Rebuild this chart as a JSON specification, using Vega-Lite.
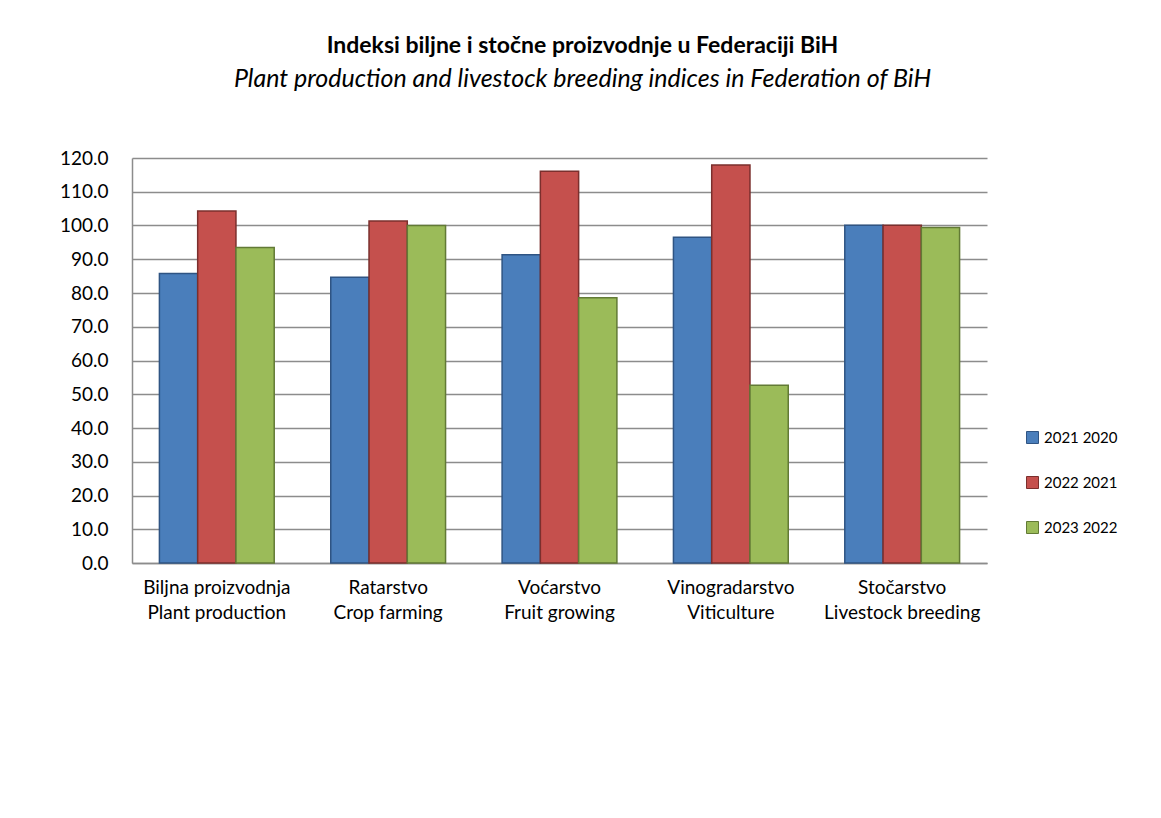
{
  "$schema": "https://vega.github.io/schema/vega-lite/v6.json",
  "width": 855,
  "height": 405,
  "autosize": "none",
  "padding": {"left": 132, "top": 158, "right": 174, "bottom": 255},
  "background": "white",
  "title": {
    "text": "Indeksi biljne i stočne proizvodnje u Federaciji BiH",
    "subtitle": "Plant production and livestock breeding indices in Federation of BiH",
    "font": "Lato",
    "fontSize": 23,
    "fontWeight": "bold",
    "color": "black",
    "subtitleFont": "Lato",
    "subtitleFontSize": 25,
    "subtitleFontStyle": "italic",
    "subtitleColor": "black",
    "subtitlePadding": 9,
    "anchor": "middle",
    "offset": 57,
    "dx": 23
  },
  "data": {
    "values": [
      {"category": "Biljna proizvodnja|Plant production", "series": "2021 2020", "value": 85.8},
      {"category": "Biljna proizvodnja|Plant production", "series": "2022 2021", "value": 104.3},
      {"category": "Biljna proizvodnja|Plant production", "series": "2023 2022", "value": 93.5},
      {"category": "Ratarstvo|Crop farming", "series": "2021 2020", "value": 84.7},
      {"category": "Ratarstvo|Crop farming", "series": "2022 2021", "value": 101.3},
      {"category": "Ratarstvo|Crop farming", "series": "2023 2022", "value": 100.0},
      {"category": "Voćarstvo|Fruit growing", "series": "2021 2020", "value": 91.3},
      {"category": "Voćarstvo|Fruit growing", "series": "2022 2021", "value": 116.1},
      {"category": "Voćarstvo|Fruit growing", "series": "2023 2022", "value": 78.6},
      {"category": "Vinogradarstvo|Viticulture", "series": "2021 2020", "value": 96.5},
      {"category": "Vinogradarstvo|Viticulture", "series": "2022 2021", "value": 117.9},
      {"category": "Vinogradarstvo|Viticulture", "series": "2023 2022", "value": 52.7},
      {"category": "Stočarstvo|Livestock breeding", "series": "2021 2020", "value": 100.1},
      {"category": "Stočarstvo|Livestock breeding", "series": "2022 2021", "value": 100.1},
      {"category": "Stočarstvo|Livestock breeding", "series": "2023 2022", "value": 99.4}
    ]
  },
  "mark": {"type": "bar", "strokeWidth": 1.5},
  "encoding": {
    "x": {
      "field": "category",
      "type": "nominal",
      "sort": null,
      "scale": {"paddingInner": 0.33, "paddingOuter": 0.16},
      "axis": {
        "title": null,
        "labelAngle": 0,
        "labelExpr": "split(datum.label, '|')",
        "labelFont": "Lato",
        "labelFontSize": 19,
        "labelColor": "black",
        "labelLineHeight": 25,
        "labelPadding": 15,
        "labelLimit": 0,
        "ticks": false,
        "domainColor": "#8c8c8c",
        "domainWidth": 1.5
      }
    },
    "xOffset": {"field": "series", "type": "nominal", "sort": null, "scale": {"paddingInner": 0}},
    "y": {
      "field": "value",
      "type": "quantitative",
      "scale": {"domain": [0, 120], "nice": false},
      "axis": {
        "title": null,
        "values": [0, 10, 20, 30, 40, 50, 60, 70, 80, 90, 100, 110, 120],
        "format": ".1f",
        "labelFont": "Lato",
        "labelFontSize": 19,
        "labelColor": "black",
        "labelPadding": 24,
        "ticks": false,
        "grid": true,
        "gridColor": "#8c8c8c",
        "gridWidth": 1.5,
        "domainColor": "#8c8c8c",
        "domainWidth": 1.5
      }
    },
    "color": {
      "field": "series",
      "type": "nominal",
      "sort": null,
      "scale": {"domain": ["2021 2020", "2022 2021", "2023 2022"], "range": ["#4a7ebb", "#c5504d", "#9bbb59"]},
      "legend": {
        "title": null,
        "orient": "none",
        "legendX": 893,
        "legendY": 272,
        "labelFont": "Lato",
        "labelFontSize": 15,
        "labelColor": "black",
        "symbolType": "square",
        "symbolSize": 144,
        "symbolStrokeWidth": 1,
        "rowPadding": 28,
        "labelOffset": 4
      }
    },
    "stroke": {
      "field": "series",
      "type": "nominal",
      "sort": null,
      "scale": {"domain": ["2021 2020", "2022 2021", "2023 2022"], "range": ["#2f5483", "#7b2f2d", "#627a35"]},
      "legend": {
        "title": null,
        "orient": "none",
        "legendX": 893,
        "legendY": 272,
        "labelFont": "Lato",
        "labelFontSize": 15,
        "labelColor": "black",
        "symbolType": "square",
        "symbolSize": 144,
        "symbolStrokeWidth": 1,
        "rowPadding": 28,
        "labelOffset": 4
      }
    }
  },
  "config": {"view": {"stroke": null}}
}
